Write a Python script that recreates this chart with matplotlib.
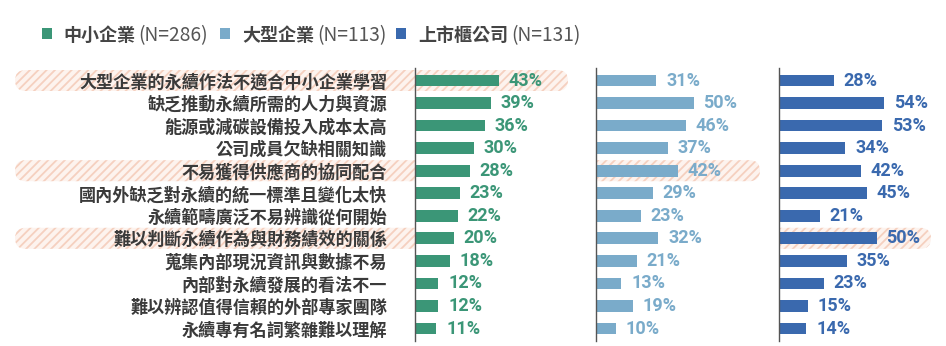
import matplotlib
matplotlib.use("Agg")
import matplotlib.pyplot as plt
from matplotlib.patches import FancyBboxPatch, Rectangle
from matplotlib.transforms import Bbox, IdentityTransform

# ---------------- data ----------------
categories = [
    "大型企業的永續作法不適合中小企業學習",
    "缺乏推動永續所需的人力與資源",
    "能源或減碳設備投入成本太高",
    "公司成員欠缺相關知識",
    "不易獲得供應商的協同配合",
    "國內外缺乏對永續的統一標準且變化太快",
    "永續範疇廣泛不易辨識從何開始",
    "難以判斷永續作為與財務績效的關係",
    "蒐集內部現況資訊與數據不易",
    "內部對永續發展的看法不一",
    "難以辨認值得信賴的外部專家團隊",
    "永續專有名詞繁雜難以理解",
]
sme = [43, 39, 36, 30, 28, 23, 22, 20, 18, 12, 12, 11]
large = [31, 50, 46, 37, 42, 29, 23, 32, 21, 13, 19, 10]
listed = [28, 54, 53, 34, 42, 45, 21, 50, 35, 23, 15, 14]
series_names = ["中小企業", "大型企業", "上市櫃公司"]
series_n = ["(N=286)", "(N=113)", "(N=131)"]
# highlighted (row, panel)
highlights = [(0, 0), (4, 1), (7, 2)]

# ---------------- style ----------------
colors = ["#3b9677", "#7aabca", "#3a69ae"]
label_color = "#3a3a3a"
CJK = ["Noto Sans CJK TC", "DejaVu Sans"]
NUM = ["Roboto", "DejaVu Sans"]
plt.rcParams["hatch.linewidth"] = 1.3

W, H, DPI = 946, 346, 100
fig = plt.figure(figsize=(W / DPI, H / DPI), dpi=DPI)
fig.patch.set_facecolor("white")

SCALE = 1.95                      # pixels per percent
panel_left = [415, 596, 779]
panel_right = [596, 779, 946]
band_len = [153, 164, 152]        # highlight band length inside panel (px)
row0_px, rowlast_px = 80.5, 328.5
step = (rowlast_px - row0_px) / (len(categories) - 1)
ylo, yhi = -0.55, len(categories) - 1 + 0.55
top_px = row0_px + ylo * step
bot_px = row0_px + yhi * step

series = [sme, large, listed]
axes = []
y = list(range(len(categories)))
for k in range(3):
    l, r = panel_left[k], panel_right[k]
    ax = fig.add_axes([l / W, 1 - bot_px / H, (r - l) / W, (bot_px - top_px) / H])
    ax.set_facecolor("none")
    ax.set_xlim(0, (r - l) / SCALE)
    ax.set_ylim(yhi, ylo)
    for s in ["top", "right", "bottom"]:
        ax.spines[s].set_visible(False)
    ax.spines["left"].set_color("#555555")
    ax.spines["left"].set_linewidth(1.0)
    ax.set_xticks([])
    ax.barh(y, series[k], height=0.52, color=colors[k], zorder=2)
    for i, v in enumerate(series[k]):
        ax.annotate(f"{v}%", xy=(v, i), xytext=(7, 0), textcoords="offset points",
                    va="center", ha="left", color=colors[k], fontsize=13,
                    fontweight="bold", family=NUM, zorder=3)
    if k == 0:
        ax.set_yticks(y)
        ax.set_yticklabels(categories, family=CJK, fontsize=12.3,
                           fontweight="bold", color=label_color)
        ax.tick_params(axis="y", length=0, pad=20)
    else:
        ax.set_yticks([])
    axes.append(ax)

# ---------------- highlight bands ----------------
band_h = 21
band_x0 = 15
for row, panel in highlights:
    yc = axes[0].transData.transform((0, row))[1]
    x1 = panel_left[panel] + band_len[panel]
    kw = dict(boxstyle=f"round,pad=0,rounding_size={band_h / 2}",
              facecolor="#fdf3ee", edgecolor="#f5d0bf", linewidth=0,
              hatch="////", transform=IdentityTransform(), zorder=-1)
    if panel == 0:
        p = FancyBboxPatch((band_x0, yc - band_h / 2), x1 - band_x0, band_h, **kw)
        fig.add_artist(p)
    else:
        clips = [Bbox([[0, 0], [panel_left[0], H]]),
                 Bbox([[panel_left[panel], 0], [W, H]])]
        for cb in clips:
            p = FancyBboxPatch((band_x0, yc - band_h / 2), x1 - band_x0, band_h, **kw)
            fig.add_artist(p)
            p.set_clip_box(cb)
            p.set_clip_on(True)

# ---------------- legend ----------------
sq_x = [42, 220, 396]
txt_x = [63, 242, 418]
leg_y = 35.5
renderer = fig.canvas.get_renderer()
for k in range(3):
    fig.add_artist(Rectangle((sq_x[k] / W, 1 - 38.5 / H), 10 / W, 10 / H,
                             transform=fig.transFigure, facecolor=colors[k],
                             edgecolor="none"))
    t = fig.text(txt_x[k] / W, 1 - leg_y / H, series_names[k], family=CJK,
                 fontsize=13, fontweight="bold", color="#444444",
                 va="center", ha="left")
    bb = t.get_window_extent(renderer)
    fig.text((bb.x1 + 3) / W, 1 - leg_y / H, series_n[k], family=CJK,
             fontsize=13.8, color="#555555", va="center", ha="left")

fig.savefig("out.png", dpi=DPI, facecolor="white")
